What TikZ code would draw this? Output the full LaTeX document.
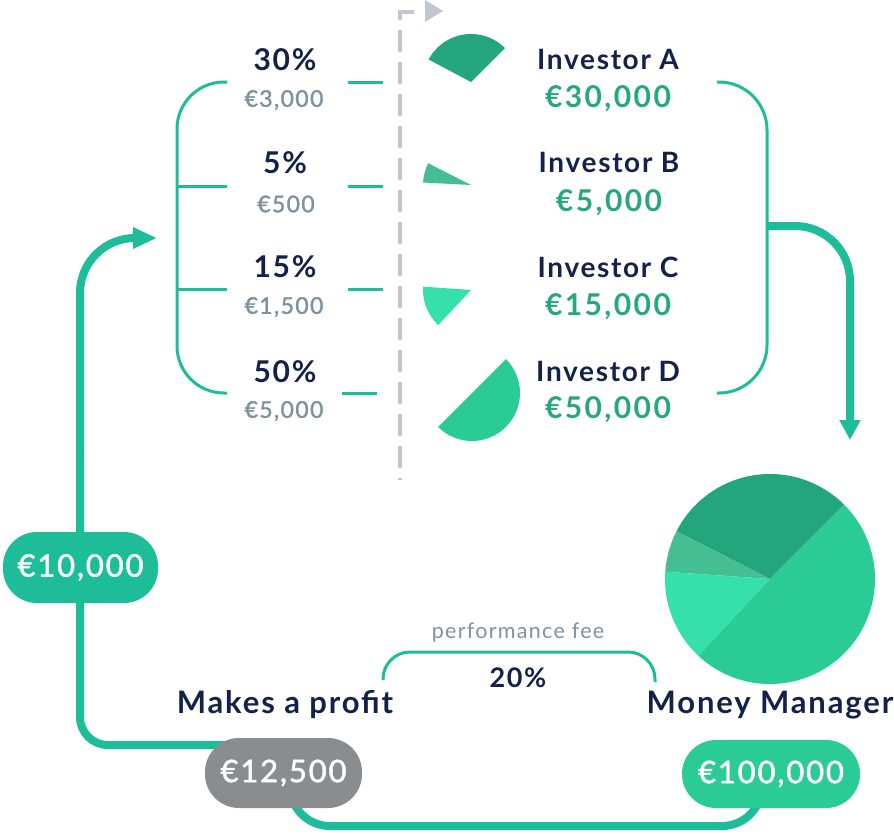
\documentclass[tikz,border=0pt]{standalone}
\usepackage{fontspec}
\setmainfont[LetterSpace=6]{Lato}
\usetikzlibrary{arrows.meta}
\definecolor{navy}{HTML}{14224A}
\definecolor{greytext}{HTML}{7D929D}
\definecolor{linegreen}{HTML}{1DBD99}
\definecolor{amountgreen}{HTML}{26A87B}
\definecolor{sliceA}{HTML}{23A67B}
\definecolor{sliceB}{HTML}{45BE94}
\definecolor{sliceC}{HTML}{36E0AB}
\definecolor{sliceD}{HTML}{2BCB96}
\definecolor{pillgrey}{HTML}{8A8D90}
\definecolor{dashgrey}{HTML}{C1C7D0}
\tikzset{
  thinline/.style={draw=linegreen, line width=3pt},
  thickline/.style={draw=linegreen, line width=8pt},
  pct/.style={text=navy, font=\fontsize{30}{32}\selectfont\bfseries, inner sep=0pt},
  amt/.style={text=greytext, font=\fontsize{23}{25}\selectfont\addfontfeature{FakeBold=1.5}, inner sep=0pt},
  inv/.style={text=navy, font=\fontsize{28}{30}\selectfont\bfseries, inner sep=0pt},
  invamt/.style={text=amountgreen, font=\fontsize{30}{32}\selectfont\bfseries\addfontfeature{LetterSpace=8}, inner sep=0pt},
  title/.style={text=navy, font=\fontsize{31}{33}\selectfont\bfseries, inner sep=0pt},
  pill/.style={text=white, font=\fontsize{31}{33}\selectfont\addfontfeature{FakeBold=1.5}, inner sep=0pt, rounded corners=34pt},
}
\begin{document}
\begin{tikzpicture}[x=1pt,y=1pt]
\useasboundingbox (0,0) rectangle (894,-833);

% dashed separator
\draw[dashgrey, line width=4pt, dash pattern=on 22pt off 10pt] (414,-12) -- (400,-12) -- (400,-480);
\fill[dashgrey] (425,0) -- (443,-11) -- (425,-22) -- cycle;

% left bracket
\draw[thinline, rounded corners=47pt] (227,-82) -- (177,-82) -- (177,-393) -- (227,-393);
\draw[thinline] (177,-186) -- (227,-186);
\draw[thinline] (177,-289) -- (227,-289);
% right ticks
\draw[thinline] (348,-82) -- (383,-82);
\draw[thinline] (348,-186) -- (383,-186);
\draw[thinline] (348,-289) -- (383,-289);
\draw[thinline] (342,-393) -- (377,-393);

% percentages
\node[pct] (p30) at (285,-60) {30\%};
\node[amt] (a30) at (284,-100) {€3,000};
\node[pct] (p5) at (285,-163) {5\%};
\node[amt] (a5) at (286,-204) {€500};
\node[pct] (p15) at (285,-267) {15\%};
\node[amt] (a15) at (284,-307) {€1,500};
\node[pct] (p50) at (285,-372) {50\%};
\node[amt] (a50) at (284,-411) {€5,000};

% small slices
\fill[sliceA] (471,-82) -- ++(45:48) arc[start angle=45, end angle=152, radius=48] -- cycle;
\fill[sliceB] (471,-185) -- ++(153:48) arc[start angle=153, end angle=177, radius=48] -- cycle;
\fill[sliceC] (471,-290) -- ++(176:48) arc[start angle=176, end angle=227, radius=48] -- cycle;
\fill[sliceD] (472,-393) -- ++(225:48) arc[start angle=225, end angle=405, radius=48] -- cycle;

% investors
\node[inv] (iA) at (608,-59) {Investor A};
\node[invamt] (vA) at (608,-99) {€30,000};
\node[inv] (iB) at (609,-162) {Investor B};
\node[invamt] (vB) at (609,-203) {€5,000};
\node[inv] (iC) at (608,-267) {Investor C};
\node[invamt] (vC) at (608,-307) {€15,000};
\node[inv] (iD) at (608,-371) {Investor D};
\node[invamt] (vD) at (608,-410) {€50,000};

% right bracket
\draw[thinline, rounded corners=48pt] (717,-82) -- (767,-82) -- (767,-393) -- (717,-393);
\coordinate (rb) at (767,-226);
\coordinate (pietop) at (850,-440);
\draw[thickline, rounded corners=55pt, -{Triangle[length=20pt,width=20pt]}] (rb) -- (850,-226) -- (pietop);

% big pie
\coordinate (pc) at (770,-579);
\fill[sliceA] (pc) -- ++(45:105) arc[start angle=45, end angle=153, radius=105] -- cycle;
\fill[sliceB] (pc) -- ++(153:105) arc[start angle=153, end angle=176, radius=105] -- cycle;
\fill[sliceC] (pc) -- ++(176:105) arc[start angle=176, end angle=227, radius=105] -- cycle;
\fill[sliceD] (pc) -- ++(227:105) arc[start angle=227, end angle=405, radius=105] -- cycle;

% titles
\node[title] (mp) at (285,-705) {Makes a profit};
\node[title] (mm) at (770,-705) {Money Manager};
\node[text=greytext, font=\fontsize{21.5}{23}\selectfont, inner sep=0pt] (pf) at (518,-633) {performance fee};
\node[pct, font=\fontsize{27}{29}\selectfont\bfseries] (fee) at (518,-678) {20\%};
\draw[thinline, rounded corners=27pt] (383,-680) -- (383,-652) -- (655,-652) -- (655,-682);

% bottom and left flow
\coordinate (gpc) at (283.5,-773);
\coordinate (gpin) at (240,-745);
\draw[thickline, rounded corners=40pt] (290,-780) -- (290,-826) -- (762,-826) -- (762,-780);
\draw[thickline, rounded corners=28pt] (gpin) -- (80,-745) -- (80,-450);
\coordinate (larr) at (157,-238);
\draw[thickline, rounded corners=55pt, -{Triangle[length=24pt,width=20pt]}] (80,-452) -- (80,-238) -- (larr);

% pills
\node[pill, fill=linegreen, minimum width=155pt, minimum height=71pt] (p10) at (80.5,-567.5) {€10,000};
\node[pill, fill=pillgrey, minimum width=157pt, minimum height=70pt] (p125) at (gpc) {€12,500};
\node[pill, fill=sliceD, minimum width=178pt, minimum height=68pt] (p100) at (771,-774) {€100,000};
\end{tikzpicture}
\end{document}
